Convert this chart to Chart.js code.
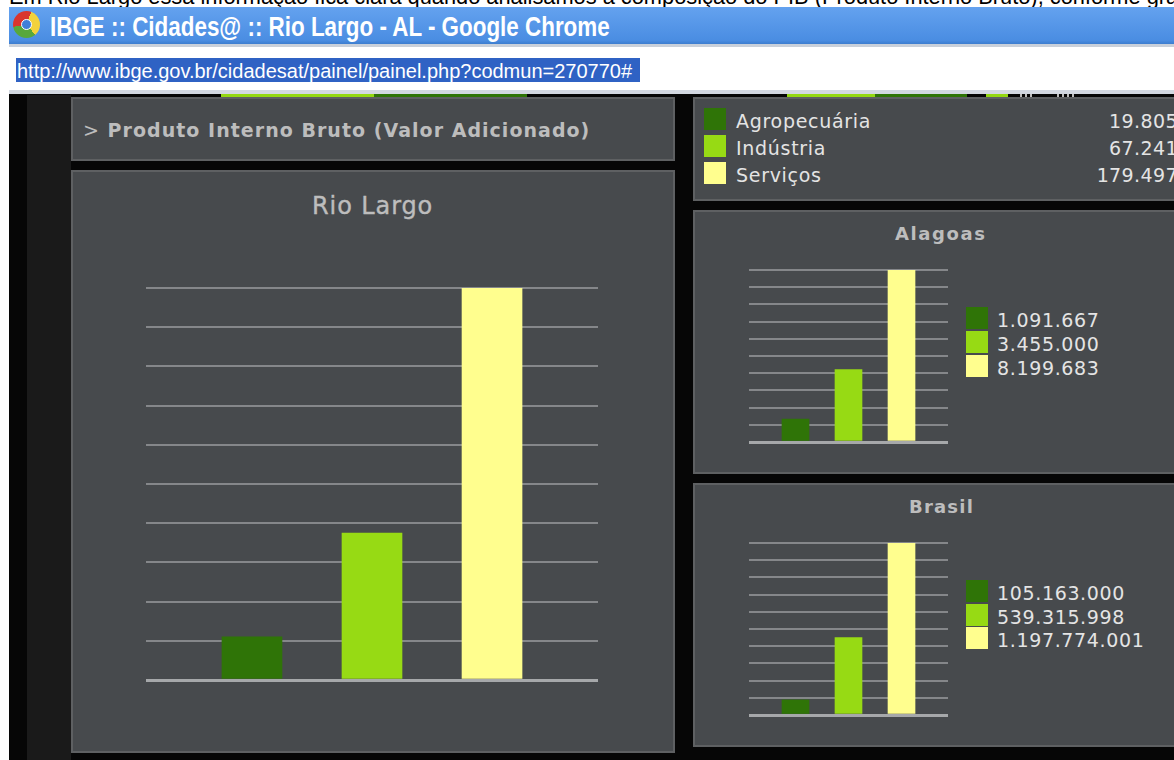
<!doctype html>
<html lang="pt">
<head>
<meta charset="UTF-8">
<title>Rio Largo</title>
<script src="https://cdn.jsdelivr.net/npm/chart.js@4/dist/chart.umd.min.js"></script>
<style>
    html, body { margin: 0; padding: 0; width: 1174px; height: 760px; overflow: hidden; background: #fff; }
    div, canvas { position: absolute; }
    .txt { white-space: nowrap; line-height: 1; }
    #page { left: 9px; top: 94px; width: 1165px; height: 666px; background: #060606; }
    #side { left: 27px; top: 95px; width: 44px; height: 665px; background: #1a1a1a; }
    .panel { background: #474a4d; border: 2px solid #5e6062; box-sizing: border-box; }
    .mono { font-family: "DejaVu Sans", sans-serif; color: #e4e4e4; }
    .head { font-family: "DejaVu Sans", sans-serif; font-weight: bold; color: #bdbdbd; }
</style>
</head>
<body>
<div class="txt" style="left:9px;top:-16px;font:21.8px 'Liberation Sans',sans-serif;color:#000">Em Rio Largo essa informação fica clara quando analisamos a composição do PIB (Produto Interno Bruto), conforme gráfico</div>
<div style="left:9px;top:7px;width:1165px;height:37px;background:linear-gradient(#64a2ef,#4a8de2 90%,#3c7dcf)"></div>
<div style="left:9px;top:44px;width:1165px;height:3px;background:#c9d0da"></div>
<div style="left:13px;top:11px;width:27px;height:27px;border-radius:50%;background:conic-gradient(from 20deg,#f2d23c 0 120deg,#58a83c 120deg 240deg,#d9352e 240deg 360deg)"></div>
<div style="left:21px;top:19px;width:11px;height:11px;border-radius:50%;background:#3f7fd8;border:1px solid #fff;box-sizing:border-box"></div>
<div class="txt" style="left:50px;top:12px;font:bold 27px 'Liberation Sans',sans-serif;color:#fff;transform:scaleX(0.83);transform-origin:left top">IBGE :: Cidades@ :: Rio Largo - AL - Google Chrome</div>
<div style="left:16px;top:58px;width:624px;height:24px;background:#2f62c4"></div>
<div class="txt" style="left:17px;top:60px;font:20px 'Liberation Sans',sans-serif;color:#fff">http://www.ibge.gov.br/cidadesat/painel/painel.php?codmun=270770#</div>
<div style="left:9px;top:90px;width:1165px;height:4px;background:#d3d8e1"></div>

<div id="page"></div>
<div id="side"></div>
<div style="left:221px;top:94px;width:153px;height:3px;background:#94d812"></div>
<div style="left:374px;top:94px;width:153px;height:3px;background:#2f7407"></div>
<div style="left:787px;top:94px;width:88px;height:3px;background:#94d812"></div>
<div style="left:875px;top:94px;width:92px;height:3px;background:#2f7407"></div>
<div style="left:986px;top:94px;width:22px;height:3px;background:#94d812"></div>
<div style="left:1020px;top:94px;width:13px;height:3px;background:repeating-linear-gradient(90deg,#bdbdbd 0 2px,transparent 2px 5px)"></div>
<div style="left:1057px;top:94px;width:18px;height:3px;background:repeating-linear-gradient(90deg,#bdbdbd 0 2px,transparent 2px 5px)"></div>

<div class="panel" style="left:71px;top:97px;width:604px;height:64px"></div>
<div class="panel" style="left:71px;top:170px;width:604px;height:583px"></div>
<div class="panel" style="left:693px;top:97px;width:490px;height:104px"></div>
<div class="panel" style="left:693px;top:210px;width:490px;height:264px"></div>
<div class="panel" style="left:693px;top:483px;width:490px;height:264px"></div>

<div class="txt head" style="left:83px;top:121px;font-size:19px;letter-spacing:1.03px"><span style="font-weight:normal">&gt;</span> Produto Interno Bruto (Valor Adicionado)</div>
<div class="txt head" style="left:312px;top:194px;font-size:24px;letter-spacing:0.9px;font-weight:normal;-webkit-text-stroke:0.4px #bdbdbd">Rio Largo</div>
<div class="txt head" style="left:895px;top:225px;font-size:18px;letter-spacing:1.6px">Alagoas</div>
<div class="txt head" style="left:909px;top:498px;font-size:18px;letter-spacing:1.2px">Brasil</div>

<canvas id="chartRio" width="460" height="400" style="left:142px;top:284px"></canvas>
<canvas id="chartAlagoas" width="207" height="180" style="left:745px;top:266px"></canvas>
<canvas id="chartBrasil" width="207" height="180" style="left:745px;top:539px"></canvas>
<div id="legends"></div>

<script>
    var categories = ['Agropecuária', 'Indústria', 'Serviços'];
    var colors = ['#2f7407', '#97da14', '#fffe8e'];
    var rioLargo = [19805, 67241, 179497];
    var alagoas = [1091667, 3455000, 8199683];
    var brasil = [105163000, 539315998, 1197774001];

    var rioLabels = ['19.805', '67.241', '179.497'];
    var alagoasLabels = ['1.091.667', '3.455.000', '8.199.683'];
    var brasilLabels = ['105.163.000', '539.315.998', '1.197.774.001'];

    function barChart(id, values, thickness, xMin, xMax, lineWidth) {
        var top = Math.max.apply(null, values);
        return new Chart(document.getElementById(id), {
            type: 'bar',
            data: {
                datasets: [{
                    data: values.map(function (v, i) { return { x: i + 1, y: v }; }),
                    backgroundColor: colors,
                    barThickness: thickness
                }]
            },
            options: {
                responsive: false,
                animation: false,
                layout: { padding: 4 },
                plugins: { legend: { display: false }, tooltip: { enabled: false } },
                scales: {
                    x: { type: 'linear', offset: false, min: xMin, max: xMax, display: false },
                    y: {
                        min: 0,
                        max: top,
                        afterBuildTicks: function (axis) {
                            // ten even intervals, same as the original flash chart
                            axis.ticks = [];
                            for (var i = 0; i <= 10; i++) axis.ticks.push({ value: top * i / 10 });
                        },
                        ticks: { display: false },
                        border: { display: false },
                        grid: {
                            drawTicks: false,
                            color: function (c) { return c.tick.value === 0 ? '#a6a8aa' : '#85878a'; },
                            lineWidth: function (c) { return c.tick.value === 0 ? lineWidth + 1 : lineWidth; }
                        }
                    }
                }
            }
        });
    }

    barChart('chartRio', rioLargo, 60, 0.117, 3.883, 2);
    barChart('chartAlagoas', alagoas, 27, 0.123, 3.877, 2);
    barChart('chartBrasil', brasil, 27, 0.123, 3.877, 2);

    var legends = document.getElementById('legends');
    function addText(text, left, top, spacing, right) {
        var d = document.createElement('div');
        d.className = 'txt mono';
        d.textContent = text;
        d.style.top = top + 'px';
        d.style.fontSize = '19px';
        d.style.letterSpacing = spacing + 'px';
        if (right) { d.style.left = (left - 200) + 'px'; d.style.width = '200px'; d.style.textAlign = 'right'; }
        else d.style.left = left + 'px';
        legends.appendChild(d);
    }
    function addSwatch(color, left, top) {
        var d = document.createElement('div');
        d.style.cssText = 'left:' + left + 'px;top:' + top + 'px;width:22px;height:22px;background:' + color;
        legends.appendChild(d);
    }

    var mainTops = [108, 135, 162];
    categories.forEach(function (c, i) {
        addSwatch(colors[i], 704, mainTops[i]);
        addText(c, 736, mainTops[i] + 4, 0.7);
        addText(rioLabels[i], 1178, mainTops[i] + 4, 0.4, true);
    });
    var alagoasTops = [307, 331, 355];
    alagoasLabels.forEach(function (t, i) {
        addSwatch(colors[i], 966, alagoasTops[i]);
        addText(t, 997, alagoasTops[i] + 4, 0.65);
    });
    var brasilTops = [580, 604, 627];
    brasilLabels.forEach(function (t, i) {
        addSwatch(colors[i], 966, brasilTops[i]);
        addText(t, 997, brasilTops[i] + 4, 0.65);
    });
</script>
</body>
</html>
